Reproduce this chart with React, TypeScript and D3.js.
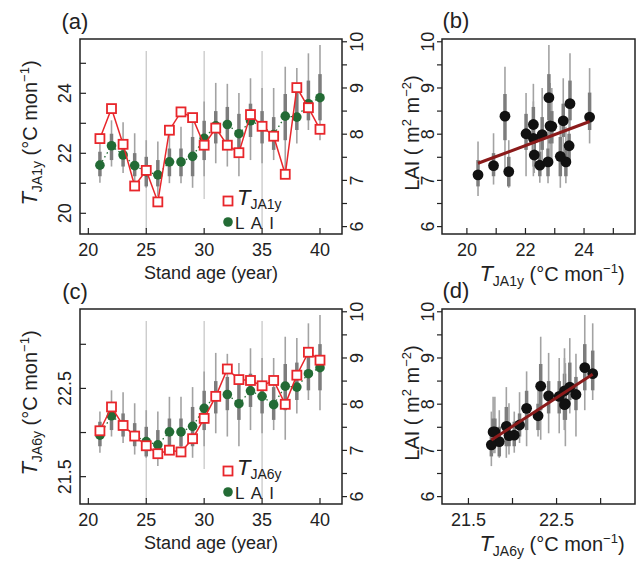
import * as d3 from "d3";
import { useEffect, useRef } from "react";

// stand age (year)
const ages = [21, 22, 23, 24, 25, 26, 27, 28, 29, 30, 31, 32, 33, 34, 35, 36, 37, 38, 39, 40];
// temperature, 1-year and 6-year windows (°C mon-1)
const tJA1y = [22.49, 23.49, 22.3, 20.91, 21.43, 20.38, 22.77, 23.38, 23.19, 22.27, 22.84, 22.27, 22.02, 23.29, 22.9, 22.57, 21.3, 24.19, 23.52, 22.8];
const tJA6y = [22.02, 22.29, 22.08, 21.96, 21.85, 21.76, 21.8, 21.78, 21.93, 22.16, 22.41, 22.72, 22.6, 22.59, 22.53, 22.59, 22.32, 22.65, 22.91, 22.82];
// LAI (m2 m-2) with outer and inner ranges
const lai = [7.33, 7.75, 7.55, 7.32, 7.19, 7.12, 7.4, 7.4, 7.52, 7.91, 8.18, 8.21, 8.01, 8.29, 8.17, 7.99, 8.39, 8.37, 8.66, 8.79];
const laiHi = [7.84, 8.3, 8.26, 8.02, 7.87, 7.84, 8.16, 8.16, 8.37, 8.71, 9.11, 9.09, 8.89, 9.21, 9.0, 9.0, 9.46, 9.43, 9.75, 9.93];
const laiLo = [6.95, 7.3, 7.16, 6.91, 6.84, 6.66, 6.94, 6.94, 6.84, 7.09, 7.37, 7.3, 7.09, 7.44, 7.37, 7.44, 7.23, 7.8, 8.09, 7.87];
const laiQ3 = [7.62, 8.01, 7.8, 7.59, 7.51, 7.44, 7.69, 7.69, 7.94, 8.29, 8.5, 8.59, 8.44, 8.66, 8.5, 8.37, 8.87, 8.9, 9.16, 9.3];
const laiQ1 = [7.09, 7.44, 7.3, 7.09, 6.87, 6.87, 7.09, 7.09, 7.09, 7.44, 7.8, 7.87, 7.66, 7.94, 7.8, 7.66, 7.87, 8.09, 8.3, 8.3];
// light reference lines in the time panels
const refAges = [25, 30, 35];
const refTop = [9.8, 9.8, 9.8];
const refBottom = [5.95, 6.6, 5.95];

const ageTicks = [20, 25, 30, 35, 40];
const laiTicks = [6, 6.5, 7, 7.5, 8, 8.5, 9, 9.5, 10];
const laiLabels = [6, 7, 8, 9, 10];
const t1Ticks = [20, 21, 22, 23, 24, 25];
const t1Labels = [20, 22, 24];
const t6Ticks = [21.5, 22, 22.5, 23];
const t6Labels = [21.5, 22.5];

const FONT = "'Liberation Sans', Arial, Helvetica, sans-serif";
const RED = "#e8262b";
const GREEN = "#236b35";
const INK = "#222";

export default function App() {
    const svgRef = useRef<SVGSVGElement>(null);

    useEffect(() => {
        const svg = d3.select(svgRef.current);
        svg.selectAll("*").remove();
        svg.attr("font-family", FONT);

        const L = { l: 80, r: 342 };
        const R = { l: 442, r: 635 };
        const rows = [39, 309];
        const ph = 195;

        const box = (x0, x1, y0, y1) =>
            svg.append("rect")
                .attr("x", x0).attr("y", y0)
                .attr("width", x1 - x0).attr("height", y1 - y0)
                .attr("fill", "none").attr("stroke", INK).attr("stroke-width", 1.5);

        const ticksX = (scale, vals, labels, y, fmt) => {
            svg.append("g").selectAll("line").data(vals).enter().append("line")
                .attr("x1", d => scale(d)).attr("x2", d => scale(d))
                .attr("y1", y).attr("y2", y - 6)
                .attr("stroke", INK).attr("stroke-width", 1.2);
            svg.append("g").selectAll("text").data(labels).enter().append("text")
                .attr("x", d => scale(d)).attr("y", y + 22)
                .attr("text-anchor", "middle").attr("font-size", 18).attr("fill", INK)
                .text(fmt);
        };

        const ticksY = (scale, vals, labels, x, len, labelX, fmt) => {
            svg.append("g").selectAll("line").data(vals).enter().append("line")
                .attr("x1", x).attr("x2", x + len)
                .attr("y1", d => scale(d)).attr("y2", d => scale(d))
                .attr("stroke", INK).attr("stroke-width", 1.2);
            svg.append("g").selectAll("text").data(labels).enter().append("text")
                .attr("transform", d => `translate(${labelX},${scale(d)}) rotate(-90)`)
                .attr("text-anchor", "middle").attr("font-size", 18).attr("fill", INK)
                .text(fmt);
        };

        // T with subscript, optionally followed by the unit
        const tTitle = (sel, sub, unit = true) => {
            sel.append("tspan").attr("font-style", "italic").attr("font-size", 22).text("T");
            sel.append("tspan").attr("font-size", 14).attr("dy", unit ? 5 : 4).text(sub);
            if (!unit) return;
            sel.append("tspan").attr("font-size", 20).attr("dy", -5).text(" (°C  mon");
            sel.append("tspan").attr("font-size", 13).attr("dy", -8).text("−1");
            sel.append("tspan").attr("font-size", 20).attr("dy", 8).text(")");
        };

        const laiTitle = (x, cy) => {
            const t = svg.append("text")
                .attr("transform", `translate(${x},${cy}) rotate(-90)`)
                .attr("text-anchor", "middle").attr("font-size", 20).attr("fill", INK);
            t.append("tspan").text("LAI  ( m");
            t.append("tspan").attr("font-size", 13).attr("dy", -8).text("2");
            t.append("tspan").attr("dy", 8).text(" m");
            t.append("tspan").attr("font-size", 13).attr("dy", -8).text("−2");
            t.append("tspan").attr("dy", 8).text(")");
        };

        const errBars = (xs, yScale) => {
            const g = svg.append("g");
            xs.forEach((xv, i) => {
                g.append("line").attr("x1", xv).attr("x2", xv)
                    .attr("y1", yScale(laiLo[i])).attr("y2", yScale(laiHi[i]))
                    .attr("stroke", "#a3a3a3").attr("stroke-width", 1.6);
                g.append("line").attr("x1", xv).attr("x2", xv)
                    .attr("y1", yScale(laiQ1[i])).attr("y2", yScale(laiQ3[i]))
                    .attr("stroke", "#7d7d7d").attr("stroke-width", 3.5);
            });
        };

        const panelLabel = (x, y, s) =>
            svg.append("text").attr("x", x).attr("y", y).attr("text-anchor", "middle")
                .attr("font-size", 22).attr("fill", INK).text(s);

        const timePanels = [
            { top: rows[0], t: tJA1y, dom: [19.31, 25.81], ticks: t1Ticks, labels: t1Labels, sub: "JA1y", tag: "(a)", fmt: d3.format("d") },
            { top: rows[1], t: tJA6y, dom: [21.19, 23.4], ticks: t6Ticks, labels: t6Labels, sub: "JA6y", tag: "(c)", fmt: d3.format(".1f") },
        ];

        timePanels.forEach(p => {
            const y0 = p.top, y1 = p.top + ph;
            const x = d3.scaleLinear().domain([19.28, 41.9]).range([L.l, L.r]);
            const yT = d3.scaleLinear().domain(p.dom).range([y1, y0]);
            const yL = d3.scaleLinear().domain([5.84, 10.06]).range([y1, y0]);

            // reference lines
            refAges.forEach((a, i) => {
                svg.append("line").attr("x1", x(a)).attr("x2", x(a))
                    .attr("y1", yL(refTop[i])).attr("y2", yL(refBottom[i]))
                    .attr("stroke", "#c8c8c8").attr("stroke-width", 1.3);
            });

            errBars(ages.map(a => x(a)), yL);

            // LAI dotted line + dots
            svg.append("path").datum(ages)
                .attr("fill", "none").attr("stroke", GREEN).attr("stroke-width", 1.3)
                .attr("stroke-dasharray", "1.5 3")
                .attr("d", d3.line<number>().x(a => x(a)).y((a, i) => yL(lai[i])));
            svg.append("g").selectAll("circle").data(ages).enter().append("circle")
                .attr("cx", a => x(a)).attr("cy", (a, i) => yL(lai[i])).attr("r", 4.8)
                .attr("fill", GREEN);

            // temperature line + open squares
            svg.append("path").datum(ages)
                .attr("fill", "none").attr("stroke", RED).attr("stroke-width", 1.5)
                .attr("d", d3.line<number>().x(a => x(a)).y((a, i) => yT(p.t[i])));
            svg.append("g").selectAll("rect").data(ages).enter().append("rect")
                .attr("x", a => x(a) - 4.5).attr("y", (a, i) => yT(p.t[i]) - 4.5)
                .attr("width", 9).attr("height", 9)
                .attr("fill", "#fff").attr("stroke", RED).attr("stroke-width", 1.8);

            box(L.l, L.r, y0, y1);
            ticksX(x, ageTicks, ageTicks, y1, d3.format("d"));
            ticksY(yT, p.ticks, p.labels, L.l, 6, 70.5, p.fmt);
            ticksY(yL, laiTicks, laiLabels, L.r, 5, 362.5, d3.format("d"));

            // axis titles
            tTitle(svg.append("text")
                .attr("transform", `translate(37,${y0 + 94}) rotate(-90)`)
                .attr("text-anchor", "middle").attr("fill", INK), p.sub);
            svg.append("text").attr("x", (L.l + L.r) / 2).attr("y", y1 + 45)
                .attr("text-anchor", "middle").attr("font-size", 18).attr("fill", INK)
                .text("Stand age (year)");

            // legend
            const lx = 228, ly = y0 + 162;
            svg.append("rect").attr("x", lx - 4.5).attr("y", ly - 4.5).attr("width", 9).attr("height", 9)
                .attr("fill", "#fff").attr("stroke", RED).attr("stroke-width", 1.8);
            tTitle(svg.append("text").attr("x", lx + 9).attr("y", ly + 4).attr("fill", INK), p.sub, false);
            svg.append("circle").attr("cx", lx).attr("cy", ly + 21).attr("r", 4.8).attr("fill", GREEN);
            svg.append("text").attr("x", lx + 7).attr("y", ly + 28)
                .attr("font-size", 17).attr("letter-spacing", 1.6).attr("fill", INK).text("L A I");

            panelLabel(75, y0 - 10, p.tag);
        });

        const scatterPanels = [
            { top: rows[0], t: tJA1y, dom: [19.15, 25.74], ticks: t1Ticks, labels: t1Labels, sub: "JA1y", tag: "(b)", fmt: d3.format("d") },
            { top: rows[1], t: tJA6y, dom: [21.2, 23.39], ticks: t6Ticks, labels: t6Labels, sub: "JA6y", tag: "(d)", fmt: d3.format(".1f") },
        ];

        scatterPanels.forEach(p => {
            const y0 = p.top, y1 = p.top + ph;
            const x = d3.scaleLinear().domain(p.dom).range([R.l, R.r]);
            const yL = d3.scaleLinear().domain([5.84, 10.06]).range([y1, y0]);

            errBars(p.t.map(v => x(v)), yL);
            svg.append("g").selectAll("circle").data(p.t).enter().append("circle")
                .attr("cx", v => x(v)).attr("cy", (v, i) => yL(lai[i])).attr("r", 5.4)
                .attr("fill", "#111");

            // least squares fit
            const mx = d3.mean(p.t), my = d3.mean(lai);
            const sxy = d3.sum(p.t, (v, i) => (v - mx) * (lai[i] - my));
            const sxx = d3.sum(p.t, v => (v - mx) ** 2);
            const b = sxy / sxx, a0 = my - b * mx;
            const [xmin, xmax] = d3.extent(p.t);
            svg.append("line")
                .attr("x1", x(xmin)).attr("y1", yL(a0 + b * xmin))
                .attr("x2", x(xmax)).attr("y2", yL(a0 + b * xmax))
                .attr("stroke", "#8b1a1a").attr("stroke-width", 3);

            box(R.l, R.r, y0, y1);
            ticksX(x, p.ticks, p.labels, y1, p.fmt);
            ticksY(yL, laiTicks, laiLabels, R.l, -5, 433.5, d3.format("d"));

            laiTitle(419, y0 + 94);
            tTitle(svg.append("text").attr("x", 552).attr("y", y1 + 47)
                .attr("text-anchor", "middle").attr("fill", INK), p.sub);

            panelLabel(456, y0 - 11, p.tag);
        });
    }, []);

    return (
        <svg ref={svgRef} width={636} height={566}
            style={{ position: "absolute", left: 0, top: 0, background: "#fff" }} />
    );
}
